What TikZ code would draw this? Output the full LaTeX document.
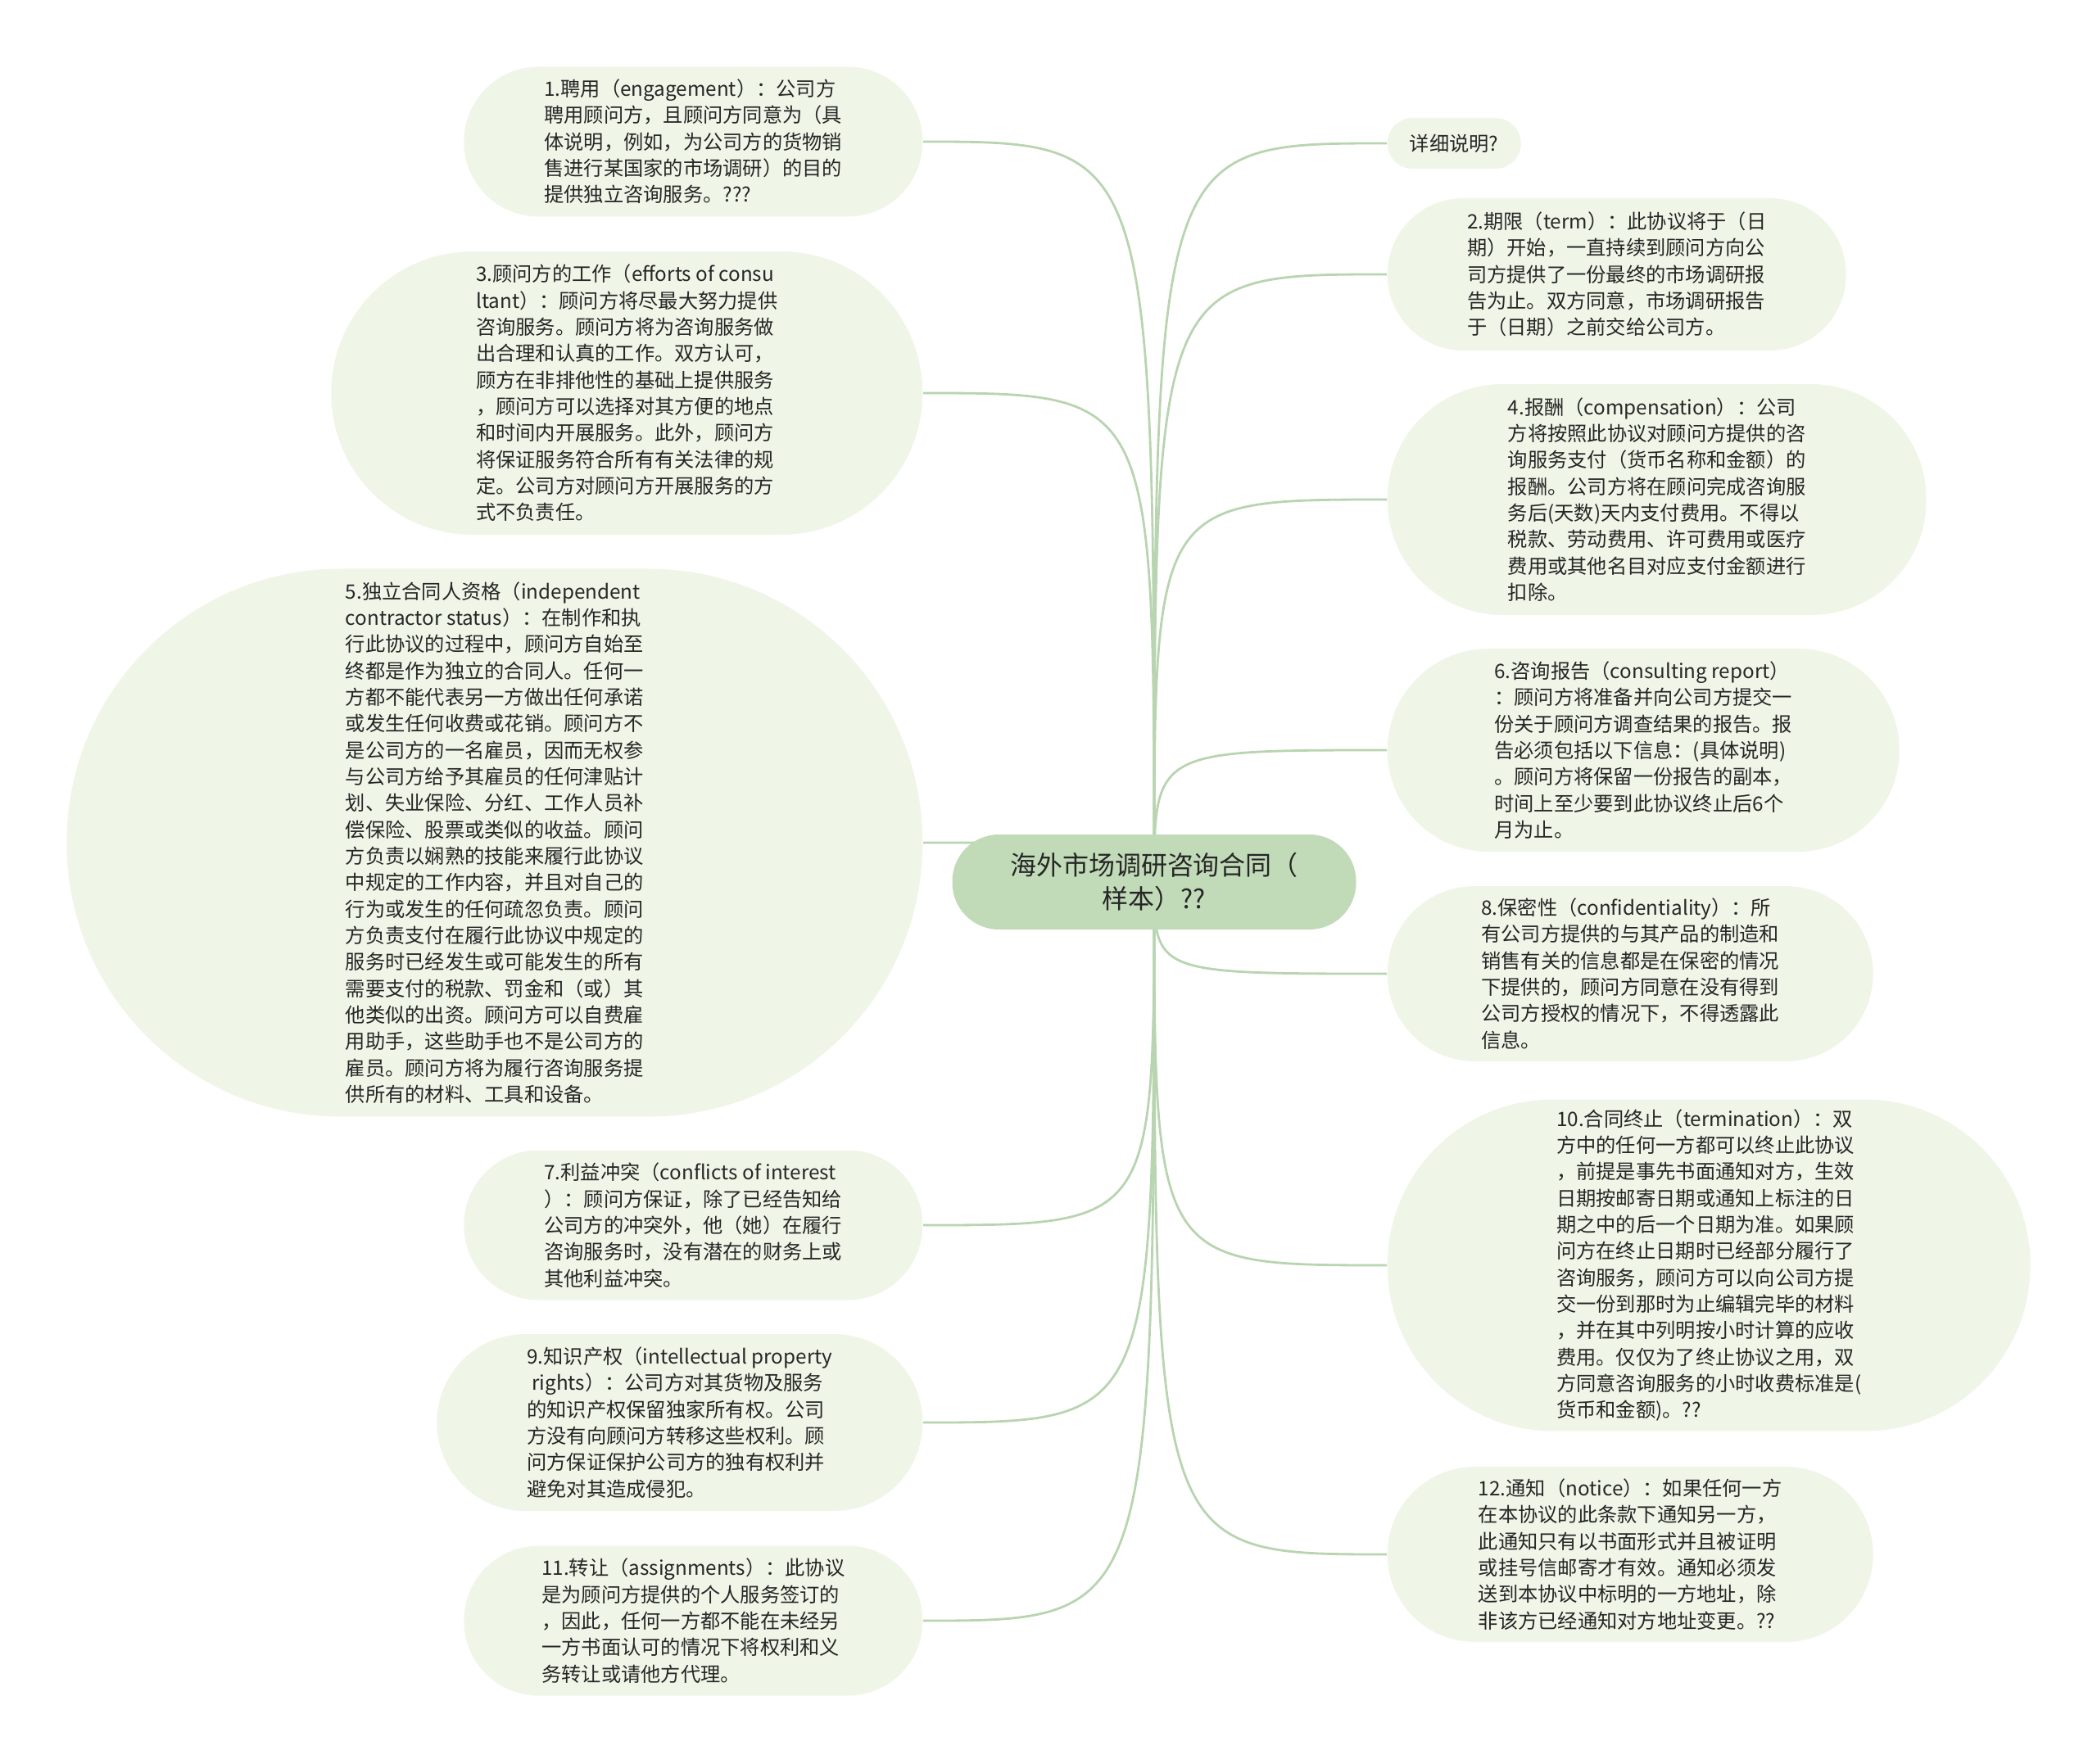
\documentclass[tikz,border=0pt]{standalone}
\usepackage{fontspec}
\setmainfont{Noto Sans CJK SC}
\usetikzlibrary{backgrounds}
\definecolor{leaffill}{RGB}{239,246,232}
\definecolor{rootfill}{RGB}{193,218,184}
\definecolor{linkgreen}{RGB}{184,212,176}
\definecolor{inkgray}{RGB}{38,38,38}

\begin{document}
\begin{tikzpicture}[
  leaf/.style 2 args={rectangle, fill=leaffill, align=left, text=inkgray,
               minimum width=#1, minimum height=#2, rounded corners=#2/2-0.1pt,
               inner xsep=1.5pt, inner ysep=3pt, font=\fontsize{6.9}{9.2}\selectfont},
  root/.style={rectangle, fill=rootfill, align=center, text=inkgray,
               minimum width=4.93cm, minimum height=1.16cm, rounded corners=0.57cm,
               font=\fontsize{9.1}{11.6}\selectfont},
  link/.style={draw=linkgreen, line width=0.8pt}
]
  \useasboundingbox (0,0) rectangle (25.6,-21.54);

  \node[root] (root) at (14.09,-10.77) {海外市场调研咨询合同（\\样本）??};

  % left column
  \node[leaf={5.60cm}{1.83cm}, anchor=east] (engage) at (11.27,-1.73) {1.聘用（engagement）：公司方\\聘用顾问方，且顾问方同意为（具\\体说明，例如，为公司方的货物销\\售进行某国家的市场调研）的目的\\提供独立咨询服务。???};
  \node[leaf={7.22cm}{3.46cm}, anchor=east] (efforts) at (11.27,-4.80) {3.顾问方的工作（efforts of consu\\ltant）：顾问方将尽最大努力提供\\咨询服务。顾问方将为咨询服务做\\出合理和认真的工作。双方认可，\\顾方在非排他性的基础上提供服务\\，顾问方可以选择对其方便的地点\\和时间内开展服务。此外，顾问方\\将保证服务符合所有有关法律的规\\定。公司方对顾问方开展服务的方\\式不负责任。};
  \node[leaf={10.45cm}{6.69cm}, anchor=east] (status) at (11.27,-10.29) {5.独立合同人资格（independent\\contractor status）：在制作和执\\行此协议的过程中，顾问方自始至\\终都是作为独立的合同人。任何一\\方都不能代表另一方做出任何承诺\\或发生任何收费或花销。顾问方不\\是公司方的一名雇员，因而无权参\\与公司方给予其雇员的任何津贴计\\划、失业保险、分红、工作人员补\\偿保险、股票或类似的收益。顾问\\方负责以娴熟的技能来履行此协议\\中规定的工作内容，并且对自己的\\行为或发生的任何疏忽负责。顾问\\方负责支付在履行此协议中规定的\\服务时已经发生或可能发生的所有\\需要支付的税款、罚金和（或）其\\他类似的出资。顾问方可以自费雇\\用助手，这些助手也不是公司方的\\雇员。顾问方将为履行咨询服务提\\供所有的材料、工具和设备。};
  \node[leaf={5.60cm}{1.83cm}, anchor=east] (conflict) at (11.27,-14.96) {7.利益冲突（conflicts of interest\\）：顾问方保证，除了已经告知给\\公司方的冲突外，他（她）在履行\\咨询服务时，没有潜在的财务上或\\其他利益冲突。};
  \node[leaf={5.93cm}{2.16cm}, anchor=east] (property) at (11.27,-17.37) {9.知识产权（intellectual property\\\hspace*{0.25em}rights）：公司方对其货物及服务\\的知识产权保留独家所有权。公司\\方没有向顾问方转移这些权利。顾\\问方保证保护公司方的独有权利并\\避免对其造成侵犯。};
  \node[leaf={5.60cm}{1.83cm}, anchor=east] (assign) at (11.27,-19.79) {11.转让（assignments）：此协议\\是为顾问方提供的个人服务签订的\\，因此，任何一方都不能在未经另\\一方书面认可的情况下将权利和义\\务转让或请他方代理。};

  % right column
  \node[leaf={1.63cm}{0.62cm}, anchor=west] (detail) at (16.93,-1.75) {详细说明?};
  \node[leaf={5.60cm}{1.86cm}, anchor=west] (term) at (16.93,-3.35) {2.期限（term）：此协议将于（日\\期）开始，一直持续到顾问方向公\\司方提供了一份最终的市场调研报\\告为止。双方同意，市场调研报告\\于（日期）之前交给公司方。};
  \node[leaf={6.58cm}{2.82cm}, anchor=west] (pay) at (16.93,-6.10) {4.报酬（compensation）：公司\\方将按照此协议对顾问方提供的咨\\询服务支付（货币名称和金额）的\\报酬。公司方将在顾问完成咨询服\\务后(天数)天内支付费用。不得以\\税款、劳动费用、许可费用或医疗\\费用或其他名目对应支付金额进行\\扣除。};
  \node[leaf={6.25cm}{2.48cm}, anchor=west] (report) at (16.93,-9.16) {6.咨询报告（consulting report）\\：顾问方将准备并向公司方提交一\\份关于顾问方调查结果的报告。报\\告必须包括以下信息：(具体说明)\\。顾问方将保留一份报告的副本，\\时间上至少要到此协议终止后6个\\月为止。};
  \node[leaf={5.93cm}{2.14cm}, anchor=west] (secret) at (16.93,-11.89) {8.保密性（confidentiality）：所\\有公司方提供的与其产品的制造和\\销售有关的信息都是在保密的情况\\下提供的，顾问方同意在没有得到\\公司方授权的情况下，不得透露此\\信息。};
  \node[leaf={7.85cm}{4.05cm}, anchor=west] (ending) at (16.93,-15.45) {10.合同终止（termination）：双\\方中的任何一方都可以终止此协议\\，前提是事先书面通知对方，生效\\日期按邮寄日期或通知上标注的日\\期之中的后一个日期为准。如果顾\\问方在终止日期时已经部分履行了\\咨询服务，顾问方可以向公司方提\\交一份到那时为止编辑完毕的材料\\，并在其中列明按小时计算的应收\\费用。仅仅为了终止协议之用，双\\方同意咨询服务的小时收费标准是(\\货币和金额)。??};
  \node[leaf={5.93cm}{2.14cm}, anchor=west] (notice) at (16.93,-18.98) {12.通知（notice）：如果任何一方\\在本协议的此条款下通知另一方，\\此通知只有以书面形式并且被证明\\或挂号信邮寄才有效。通知必须发\\送到本协议中标明的一方地址，除\\非该方已经通知对方地址变更。??};

  % curved links from the root
  \begin{scope}[on background layer]
    \foreach \leafname in {engage, efforts, status, conflict, property, assign}
      \draw[link] (root.center) .. controls (root.center |- \leafname.east) .. (\leafname.east);
    \foreach \leafname in {detail, term, pay, report, secret, ending, notice}
      \draw[link] (root.center) .. controls (root.center |- \leafname.west) .. (\leafname.west);
  \end{scope}
\end{tikzpicture}
\end{document}
